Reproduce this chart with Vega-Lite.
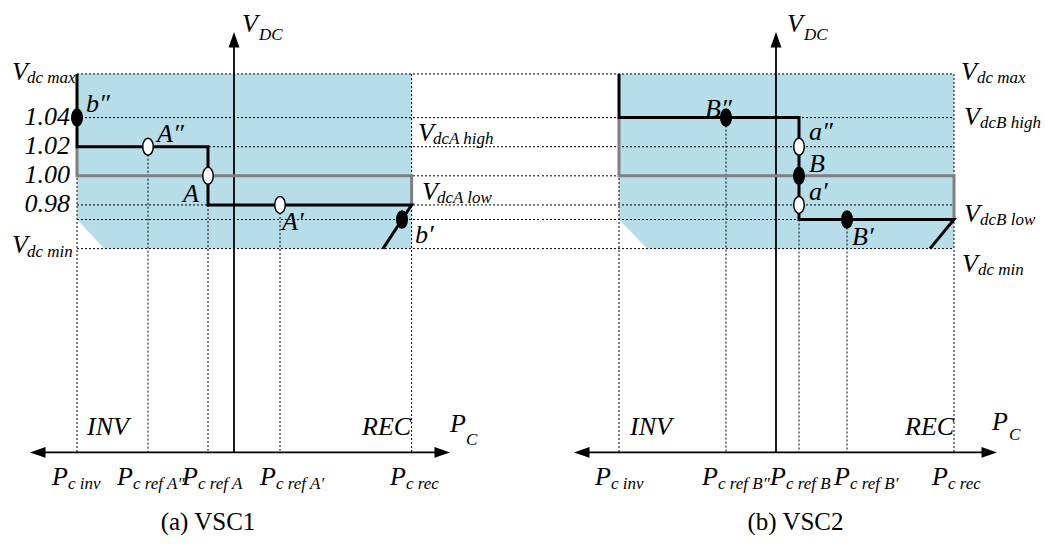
{
  "$schema": "https://vega.github.io/schema/vega-lite/v6.json",
  "padding": 0,
  "spacing": 0,
  "config": {"view": {"stroke": null}},
  "datasets": {
    "bandA": [
      {"P": -0.785, "V": 1.07, "V2": 0.97},
      {"P": -0.65, "V": 1.07, "V2": 0.95},
      {"P": 0.888, "V": 1.07, "V2": 0.95}
    ],
    "bandB": [
      {"P": -0.785, "V": 1.07, "V2": 0.97},
      {"P": -0.645, "V": 1.07, "V2": 0.95},
      {"P": 0.89, "V": 1.07, "V2": 0.95}
    ],
    "levelsA": [
      {"P": -0.785, "P2": 1.53, "V": 1.07},
      {"P": -0.785, "P2": 1.53, "V": 1.04},
      {"P": -0.785, "P2": 1.53, "V": 1.02},
      {"P": -0.785, "P2": 1.53, "V": 1.0},
      {"P": -0.785, "P2": 1.53, "V": 0.98},
      {"P": -0.785, "P2": 1.53, "V": 0.97},
      {"P": -0.785, "P2": 1.53, "V": 0.95}
    ],
    "levelsB": [
      {"P": -1.17, "P2": 0.89, "V": 1.07},
      {"P": -1.17, "P2": 0.89, "V": 1.04},
      {"P": -1.17, "P2": 0.89, "V": 1.02},
      {"P": -1.17, "P2": 0.89, "V": 1.0},
      {"P": -1.17, "P2": 0.89, "V": 0.98},
      {"P": -1.17, "P2": 0.89, "V": 0.97},
      {"P": -1.17, "P2": 0.89, "V": 0.95}
    ],
    "dropsA": [
      {"P": -0.785, "V": 1.07, "V2": 0.81},
      {"P": -0.43, "V": 1.02, "V2": 0.81},
      {"P": -0.13, "V": 0.98, "V2": 0.81},
      {"P": 0.23, "V": 0.98, "V2": 0.81},
      {"P": 0.888, "V": 1.07, "V2": 0.81}
    ],
    "dropsB": [
      {"P": -0.785, "V": 1.07, "V2": 0.81},
      {"P": -0.25, "V": 1.04, "V2": 0.81},
      {"P": 0.115, "V": 0.97, "V2": 0.81},
      {"P": 0.355, "V": 0.97, "V2": 0.81},
      {"P": 0.89, "V": 1.07, "V2": 0.81}
    ],
    "axesA": [
      {"P": 0, "V": 0.81, "P2": 0, "V2": 1.09},
      {"P": -1.0, "V": 0.81, "P2": 1.06, "V2": 0.81}
    ],
    "axesB": [
      {"P": 0, "V": 0.81, "P2": 0, "V2": 1.09},
      {"P": -0.99, "V": 0.81, "P2": 1.085, "V2": 0.81}
    ],
    "arrowsA": [
      {"P": 0, "V": 1.0988, "dir": "up"},
      {"P": -1.02, "V": 0.81, "dir": "left"},
      {"P": 1.08, "V": 0.81, "dir": "right"}
    ],
    "arrowsB": [
      {"P": 0, "V": 1.0988, "dir": "up"},
      {"P": -1.01, "V": 0.81, "dir": "left"},
      {"P": 1.105, "V": 0.81, "dir": "right"}
    ],
    "stepsA": [
      {"curve": "reference", "i": 0, "P": -0.785, "V": 1.02},
      {"curve": "reference", "i": 1, "P": -0.785, "V": 1.0},
      {"curve": "reference", "i": 2, "P": 0.888, "V": 1.0},
      {"curve": "reference", "i": 3, "P": 0.888, "V": 0.98},
      {"curve": "droop", "i": 0, "P": -0.785, "V": 1.07},
      {"curve": "droop", "i": 1, "P": -0.785, "V": 1.02},
      {"curve": "droop", "i": 2, "P": -0.13, "V": 1.02},
      {"curve": "droop", "i": 3, "P": -0.13, "V": 0.98},
      {"curve": "droop", "i": 4, "P": 0.888, "V": 0.98},
      {"curve": "droop", "i": 5, "P": 0.745, "V": 0.95}
    ],
    "stepsB": [
      {"curve": "reference", "i": 0, "P": -0.785, "V": 1.04},
      {"curve": "reference", "i": 1, "P": -0.785, "V": 1.0},
      {"curve": "reference", "i": 2, "P": 0.89, "V": 1.0},
      {"curve": "reference", "i": 3, "P": 0.89, "V": 0.97},
      {"curve": "droop", "i": 0, "P": -0.785, "V": 1.07},
      {"curve": "droop", "i": 1, "P": -0.785, "V": 1.04},
      {"curve": "droop", "i": 2, "P": 0.115, "V": 1.04},
      {"curve": "droop", "i": 3, "P": 0.115, "V": 0.97},
      {"curve": "droop", "i": 4, "P": 0.89, "V": 0.97},
      {"curve": "droop", "i": 5, "P": 0.77, "V": 0.95}
    ],
    "opsA": [
      {"name": "b″", "P": -0.785, "V": 1.04, "state": "fixed"},
      {"name": "A″", "P": -0.43, "V": 1.02, "state": "open"},
      {"name": "A", "P": -0.13, "V": 1.0, "state": "open"},
      {"name": "A′", "P": 0.23, "V": 0.98, "state": "open"},
      {"name": "b′", "P": 0.84, "V": 0.97, "state": "fixed"}
    ],
    "opsB": [
      {"name": "B″", "P": -0.25, "V": 1.04, "state": "fixed"},
      {"name": "a″", "P": 0.115, "V": 1.02, "state": "open"},
      {"name": "B", "P": 0.115, "V": 1.0, "state": "fixed"},
      {"name": "a′", "P": 0.115, "V": 0.98, "state": "open"},
      {"name": "B′", "P": 0.355, "V": 0.97, "state": "fixed"}
    ],
    "ticksA": [
      {"P": -0.82, "V": 1.04, "label": "1.04"},
      {"P": -0.82, "V": 1.02, "label": "1.02"},
      {"P": -0.82, "V": 1.0, "label": "1.00"},
      {"P": -0.82, "V": 0.98, "label": "0.98"}
    ],
    "labelsA": [
      {"P": -1.11, "V": 1.0658, "t": "V", "role": "main"},
      {"P": -1.035, "V": 1.0637, "t": "dc max", "role": "sub"},
      {"P": -1.11, "V": 0.947, "t": "V", "role": "main"},
      {"P": -1.035, "V": 0.9442, "t": "dc min", "role": "sub"},
      {"P": -0.74, "V": 1.0438, "t": "b″", "role": "main"},
      {"P": -0.385, "V": 1.0232, "t": "A″", "role": "main"},
      {"P": -0.255, "V": 0.982, "t": "A", "role": "main"},
      {"P": 0.24, "V": 0.9628, "t": "A′", "role": "main"},
      {"P": 0.905, "V": 0.9538, "t": "b′", "role": "main"},
      {"P": 0.92, "V": 1.0239, "t": "V", "role": "main"},
      {"P": 0.995, "V": 1.0218, "t": "dcA high", "role": "sub"},
      {"P": 0.94, "V": 0.9834, "t": "V", "role": "main"},
      {"P": 1.015, "V": 0.9813, "t": "dcA low", "role": "sub"},
      {"P": 0.04, "V": 1.0988, "t": "V", "role": "main"},
      {"P": 0.125, "V": 1.0933, "t": "DC", "role": "sub"},
      {"P": -0.735, "V": 0.822, "t": "INV", "role": "main"},
      {"P": 0.64, "V": 0.822, "t": "REC", "role": "main"},
      {"P": 1.08, "V": 0.824, "t": "P", "role": "main"},
      {"P": 1.16, "V": 0.8151, "t": "C", "role": "sub"},
      {"P": -0.91, "V": 0.7876, "t": "P", "role": "main"},
      {"P": -0.83, "V": 0.7849, "t": "c inv", "role": "sub"},
      {"P": -0.585, "V": 0.7876, "t": "P", "role": "main"},
      {"P": -0.505, "V": 0.7849, "t": "c ref A″", "role": "sub"},
      {"P": -0.26, "V": 0.7876, "t": "P", "role": "main"},
      {"P": -0.18, "V": 0.7849, "t": "c ref A", "role": "sub"},
      {"P": 0.13, "V": 0.7876, "t": "P", "role": "main"},
      {"P": 0.21, "V": 0.7849, "t": "c ref A′", "role": "sub"},
      {"P": 0.78, "V": 0.7876, "t": "P", "role": "main"},
      {"P": 0.86, "V": 0.7849, "t": "c rec", "role": "sub"}
    ],
    "labelsB": [
      {"P": 0.055, "V": 1.0988, "t": "V", "role": "main"},
      {"P": 0.14, "V": 1.0933, "t": "DC", "role": "sub"},
      {"P": -0.355, "V": 1.0404, "t": "B″", "role": "main"},
      {"P": 0.165, "V": 1.0246, "t": "a″", "role": "main"},
      {"P": 0.165, "V": 1.0026, "t": "B", "role": "main"},
      {"P": 0.165, "V": 0.9834, "t": "a′", "role": "main"},
      {"P": 0.38, "V": 0.9525, "t": "B′", "role": "main"},
      {"P": 0.925, "V": 1.0658, "t": "V", "role": "main"},
      {"P": 1.005, "V": 1.0637, "t": "dc max", "role": "sub"},
      {"P": 0.94, "V": 1.0349, "t": "V", "role": "main"},
      {"P": 1.02, "V": 1.0328, "t": "dcB high", "role": "sub"},
      {"P": 0.94, "V": 0.9683, "t": "V", "role": "main"},
      {"P": 1.02, "V": 0.9662, "t": "dcB low", "role": "sub"},
      {"P": 0.93, "V": 0.9339, "t": "V", "role": "main"},
      {"P": 1.01, "V": 0.9319, "t": "dc min", "role": "sub"},
      {"P": -0.73, "V": 0.822, "t": "INV", "role": "main"},
      {"P": 0.645, "V": 0.822, "t": "REC", "role": "main"},
      {"P": 1.08, "V": 0.8254, "t": "P", "role": "main"},
      {"P": 1.165, "V": 0.8186, "t": "C", "role": "sub"},
      {"P": -0.905, "V": 0.7876, "t": "P", "role": "main"},
      {"P": -0.825, "V": 0.7849, "t": "c inv", "role": "sub"},
      {"P": -0.37, "V": 0.7876, "t": "P", "role": "main"},
      {"P": -0.29, "V": 0.7849, "t": "c ref B″", "role": "sub"},
      {"P": -0.03, "V": 0.7876, "t": "P", "role": "main"},
      {"P": 0.05, "V": 0.7849, "t": "c ref B", "role": "sub"},
      {"P": 0.29, "V": 0.7876, "t": "P", "role": "main"},
      {"P": 0.37, "V": 0.7849, "t": "c ref B′", "role": "sub"},
      {"P": 0.78, "V": 0.7876, "t": "P", "role": "main"},
      {"P": 0.86, "V": 0.7849, "t": "c rec", "role": "sub"}
    ]
  },
  "hconcat": [
    {
      "width": 540,
      "height": 500,
      "title": {"text": "(a) VSC1", "orient": "bottom", "anchor": "middle", "dx": -62, "offset": 10, "font": "Times New Roman, Liberation Serif, serif", "fontSize": 25, "fontWeight": "normal", "color": "#000000"},
      "encoding": {
        "x": {"field": "P", "type": "quantitative", "scale": {"domain": [-1.17, 1.53], "nice": false, "zero": false}, "axis": null},
        "y": {"field": "V", "type": "quantitative", "scale": {"domain": [0.7773, 1.1208], "nice": false, "zero": false}, "axis": null}
      },
      "layer": [
        {"data": {"name": "bandA"}, "mark": {"type": "area", "color": "#B7DDE8", "opacity": 1}, "encoding": {"y2": {"field": "V2"}}},
        {"data": {"name": "levelsA"}, "mark": {"type": "rule", "color": "#000000", "strokeWidth": 1, "strokeDash": [2, 2]}, "encoding": {"x2": {"field": "P2"}}},
        {"data": {"name": "dropsA"}, "mark": {"type": "rule", "color": "#000000", "strokeWidth": 1, "strokeDash": [2, 2]}, "encoding": {"y2": {"field": "V2"}}},
        {"data": {"name": "axesA"}, "mark": {"type": "rule", "color": "#000000", "strokeWidth": 1.8}, "encoding": {"x2": {"field": "P2"}, "y2": {"field": "V2"}}},
        {"data": {"name": "arrowsA"}, "mark": {"type": "point", "filled": true, "color": "#000000", "opacity": 1, "size": 240, "strokeWidth": 0},
         "encoding": {"shape": {"field": "dir", "type": "nominal", "legend": null, "scale": {"domain": ["up", "left", "right"], "range": ["M0,0L0.7,2L-0.7,2Z", "M0,0L2,-0.7L2,0.7Z", "M0,0L-2,-0.7L-2,0.7Z"]}}}},
        {"data": {"name": "stepsA"}, "transform": [{"filter": "datum.curve === 'reference'"}], "mark": {"type": "line", "color": "#808080", "strokeWidth": 3, "strokeJoin": "miter", "strokeCap": "butt"}, "encoding": {"order": {"field": "i", "type": "quantitative"}}},
        {"data": {"name": "stepsA"}, "transform": [{"filter": "datum.curve === 'droop'"}], "mark": {"type": "line", "color": "#000000", "strokeWidth": 3, "strokeJoin": "miter", "strokeCap": "butt"}, "encoding": {"order": {"field": "i", "type": "quantitative"}}},
        {"data": {"name": "opsA"}, "mark": {"type": "point", "shape": "M0,-1C0.342,-1,0.62,-0.552,0.62,0C0.62,0.552,0.342,1,0,1C-0.342,1,-0.62,0.552,-0.62,0C-0.62,-0.552,-0.342,-1,0,-1Z", "size": 289, "filled": true, "stroke": "#000000", "strokeWidth": 1.5, "opacity": 1},
         "encoding": {"fill": {"field": "state", "type": "nominal", "legend": null, "scale": {"domain": ["fixed", "open"], "range": ["#000000", "#ffffff"]}}}},
        {"data": {"name": "ticksA"}, "mark": {"type": "text", "align": "right", "baseline": "middle", "dy": -1, "font": "Liberation Serif", "fontStyle": "italic", "fontSize": 26, "color": "#000000"}, "encoding": {"text": {"field": "label"}}},
        {"data": {"name": "labelsA"}, "transform": [{"filter": "datum.role === 'main'"}], "mark": {"type": "text", "align": "left", "baseline": "alphabetic", "font": "Liberation Serif", "fontStyle": "italic", "fontSize": 26, "color": "#000000"}, "encoding": {"text": {"field": "t"}}},
        {"data": {"name": "labelsA"}, "transform": [{"filter": "datum.role === 'sub'"}], "mark": {"type": "text", "align": "left", "baseline": "alphabetic", "font": "Liberation Serif", "fontStyle": "italic", "fontSize": 17, "color": "#000000"}, "encoding": {"text": {"field": "t"}}}
      ]
    },
    {
      "width": 505,
      "height": 500,
      "title": {"text": "(b) VSC2", "orient": "bottom", "anchor": "middle", "dx": 1, "offset": 10, "font": "Times New Roman, Liberation Serif, serif", "fontSize": 25, "fontWeight": "normal", "color": "#000000"},
      "encoding": {
        "x": {"field": "P", "type": "quantitative", "scale": {"domain": [-1.17, 1.355], "nice": false, "zero": false}, "axis": null},
        "y": {"field": "V", "type": "quantitative", "scale": {"domain": [0.7773, 1.1208], "nice": false, "zero": false}, "axis": null}
      },
      "layer": [
        {"data": {"name": "bandB"}, "mark": {"type": "area", "color": "#B7DDE8", "opacity": 1}, "encoding": {"y2": {"field": "V2"}}},
        {"data": {"name": "levelsB"}, "mark": {"type": "rule", "color": "#000000", "strokeWidth": 1, "strokeDash": [2, 2]}, "encoding": {"x2": {"field": "P2"}}},
        {"data": {"name": "dropsB"}, "mark": {"type": "rule", "color": "#000000", "strokeWidth": 1, "strokeDash": [2, 2]}, "encoding": {"y2": {"field": "V2"}}},
        {"data": {"name": "axesB"}, "mark": {"type": "rule", "color": "#000000", "strokeWidth": 1.8}, "encoding": {"x2": {"field": "P2"}, "y2": {"field": "V2"}}},
        {"data": {"name": "arrowsB"}, "mark": {"type": "point", "filled": true, "color": "#000000", "opacity": 1, "size": 240, "strokeWidth": 0},
         "encoding": {"shape": {"field": "dir", "type": "nominal", "legend": null, "scale": {"domain": ["up", "left", "right"], "range": ["M0,0L0.7,2L-0.7,2Z", "M0,0L2,-0.7L2,0.7Z", "M0,0L-2,-0.7L-2,0.7Z"]}}}},
        {"data": {"name": "stepsB"}, "transform": [{"filter": "datum.curve === 'reference'"}], "mark": {"type": "line", "color": "#808080", "strokeWidth": 3, "strokeJoin": "miter", "strokeCap": "butt"}, "encoding": {"order": {"field": "i", "type": "quantitative"}}},
        {"data": {"name": "stepsB"}, "transform": [{"filter": "datum.curve === 'droop'"}], "mark": {"type": "line", "color": "#000000", "strokeWidth": 3, "strokeJoin": "miter", "strokeCap": "butt"}, "encoding": {"order": {"field": "i", "type": "quantitative"}}},
        {"data": {"name": "opsB"}, "mark": {"type": "point", "shape": "M0,-1C0.342,-1,0.62,-0.552,0.62,0C0.62,0.552,0.342,1,0,1C-0.342,1,-0.62,0.552,-0.62,0C-0.62,-0.552,-0.342,-1,0,-1Z", "size": 289, "filled": true, "stroke": "#000000", "strokeWidth": 1.5, "opacity": 1},
         "encoding": {"fill": {"field": "state", "type": "nominal", "legend": null, "scale": {"domain": ["fixed", "open"], "range": ["#000000", "#ffffff"]}}}},
        {"data": {"name": "labelsB"}, "transform": [{"filter": "datum.role === 'main'"}], "mark": {"type": "text", "align": "left", "baseline": "alphabetic", "font": "Liberation Serif", "fontStyle": "italic", "fontSize": 26, "color": "#000000"}, "encoding": {"text": {"field": "t"}}},
        {"data": {"name": "labelsB"}, "transform": [{"filter": "datum.role === 'sub'"}], "mark": {"type": "text", "align": "left", "baseline": "alphabetic", "font": "Liberation Serif", "fontStyle": "italic", "fontSize": 17, "color": "#000000"}, "encoding": {"text": {"field": "t"}}}
      ]
    }
  ]
}
